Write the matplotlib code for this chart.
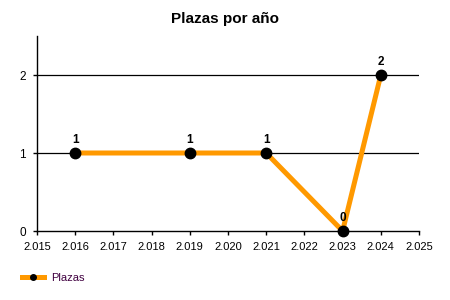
import matplotlib
matplotlib.use("Agg")
import matplotlib.pyplot as plt
from matplotlib.ticker import FuncFormatter
from matplotlib.lines import Line2D

years = [2016, 2019, 2021, 2023, 2024]
plazas = [1, 1, 1, 0, 2]
x_ticks = list(range(2015, 2026))
y_ticks = [0, 1, 2]

plt.rcParams['font.family'] = ['Liberation Sans', 'DejaVu Sans']

fig = plt.figure(figsize=(4.5, 3), dpi=100)
ax = fig.add_axes([37 / 450, 1 - 231 / 300, (419 - 37) / 450, (231 - 36) / 300])

ax.plot(years, plazas, color='#FF9900', linewidth=3.6, zorder=3, clip_on=False)
ax.plot(years, plazas, 'o', color='black', markersize=7.5, zorder=4, clip_on=False)

for x, y in zip(years, plazas):
    ax.annotate(str(y), (x, y), xytext=(0, 5), textcoords='offset points',
                ha='center', va='bottom', fontsize=8.5, fontweight='bold')

ax.set_xlim(2015, 2025)
ax.set_ylim(0, 2.5)
ax.set_xticks(x_ticks)
ax.set_yticks(y_ticks)
ax.xaxis.set_major_formatter(FuncFormatter(lambda v, p: f"{int(v):,}".replace(",", ".")))
ax.tick_params(axis='both', labelsize=8, length=3, width=1, color='black')
ax.tick_params(axis='x', pad=5)
ax.tick_params(axis='y', pad=5, labelsize=8.5)

for y in y_ticks[1:]:
    ax.axhline(y, color='black', linewidth=0.9, zorder=1)

ax.spines['top'].set_visible(False)
ax.spines['right'].set_visible(False)
for s in ['left', 'bottom']:
    ax.spines[s].set_linewidth(1)

fig.text(225 / 450, 1 - 19 / 300, 'Plazas por año', ha='center', va='center',
         fontsize=11, fontweight='bold')

handle = Line2D([], [], color='#FF9900', linewidth=3.6, marker='o',
                markerfacecolor='black', markeredgecolor='black', markersize=4)
leg = fig.legend([handle], ['Plazas'], loc='center left',
                 bbox_to_anchor=(12 / 450, 1 - 278 / 300), frameon=False,
                 fontsize=8, handlelength=2.0, handletextpad=0.6)
leg.get_texts()[0].set_color('#400040')

fig.savefig('out.png', dpi=100)
